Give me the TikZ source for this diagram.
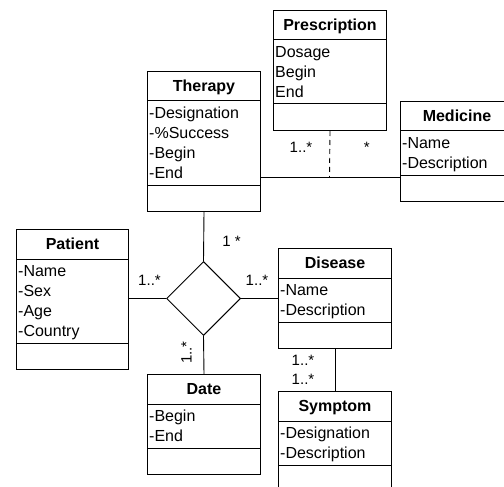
\documentclass[tikz,border=0pt]{standalone}
\usepackage{fontspec}
\setmainfont{Liberation Sans}
\usetikzlibrary{shapes.geometric,calc}
\tikzset{
  umlbox/.style={draw, line width=1pt, inner sep=0pt, rectangle},
  umlsep/.style={line width=1pt},
  umltitle/.style={font=\fontsize{16}{20}\selectfont\bfseries, inner sep=0pt, anchor=base},
  umlattr/.style={font=\fontsize{16}{20}\selectfont, inner sep=0pt, anchor=base west},
  mult/.style={font=\fontsize{15}{18}\selectfont, inner sep=0pt, anchor=base},
  conn/.style={line width=0.9pt},
  assocd/.style={draw, diamond, line width=1pt, minimum width=74pt, minimum height=74pt, inner sep=0pt, aspect=1},
}
% name, x, y(top), width, title, number of attributes, attribute list
\newcommand{\umlclass}[7]{%
  \node[umlbox, minimum width=#4pt, minimum height={60pt+20pt*#6}, anchor=north west] (#1) at (#2,#3) {};
  \draw[umlsep] ([yshift=-30pt]#1.north west) -- ([yshift=-30pt]#1.north east);
  \draw[umlsep] ([yshift={-(34pt+20pt*#6)}]#1.north west) -- ([yshift={-(34pt+20pt*#6)}]#1.north east);
  \node[umltitle] (#1-title) at ([yshift=-20.7pt]#1.north) {#5};
  \foreach \a [count=\i] in {#7} {
    \node[umlattr] (#1-a\i) at ([xshift=2pt,yshift={-(47.5pt+20pt*(\i-1))}]#1.north west) {\a};
  }
}
\begin{document}
\begin{tikzpicture}[x=1pt,y=-1pt]
\useasboundingbox (0,0) rectangle (504,487);
\clip (0,0) rectangle (504,487);

\umlclass{prescription}{273}{10}{113}{Prescription}{3}{Dosage,Begin,End}
\umlclass{therapy}{147}{71}{113}{Therapy}{4}{-Designation,-\%Success,-Begin,-End}
\umlclass{medicine}{400}{101}{113}{Medicine}{2}{-Name,-Description}
\umlclass{patient}{16}{229}{112}{Patient}{4}{-Name,-Sex,-Age,-Country}
\umlclass{disease}{278}{248}{113}{Disease}{2}{-Name,-Description}
\umlclass{date}{147}{374}{113}{Date}{2}{-Begin,-End}
\umlclass{symptom}{278}{391}{113}{Symptom}{2}{-Designation,-Description}

\node[assocd] (assoc) at (203.5,298.5) {};

% connectors
\draw[conn] (therapy.south) -- (assoc.north);
\draw[conn] (assoc.west) -- (assoc.west -| patient.east);
\draw[conn] (assoc.east) -- (assoc.east -| disease.west);
\draw[conn] (assoc.south) -- (date.north);
\draw[conn] (disease.south) -- (symptom.north);

\coordinate (tm) at (329.5,177);
\draw[conn] (tm -| therapy.east) -- (tm -| medicine.west);
\draw[conn, dash pattern=on 5pt off 4pt] (prescription.south) -- (tm);

% multiplicities
\node[mult] (m1) at (301,152.7) {1..*};
\node[mult] (m2) at (366.7,152.7) {*};
\node[mult] (m3) at (231.5,246) {1 *};
\node[mult] (m4) at (149.5,285) {1..*};
\node[mult] (m5) at (257,285) {1..*};
\node[mult, rotate=90] (m6) at (191.5,352.5) {1..*};
\node[mult] (m7) at (303,365) {1..*};
\node[mult] (m8) at (303,384) {1..*};
\end{tikzpicture}
\end{document}
